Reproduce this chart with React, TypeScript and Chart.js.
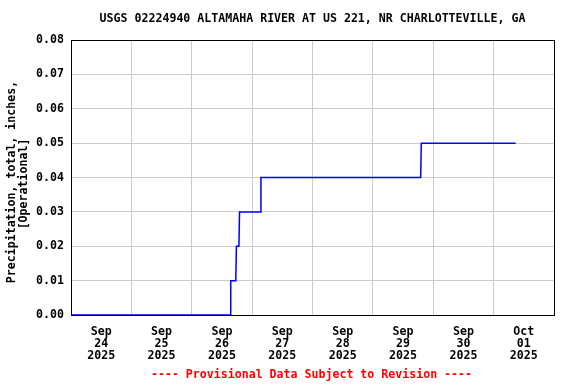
import React, { useEffect, useRef } from "react";
import { Chart, registerables } from "chart.js";

Chart.register(...registerables);

const titleText = "USGS 02224940 ALTAMAHA RIVER AT US 221, NR CHARLOTTEVILLE, GA";
const yTitleLines = ["Precipitation, total, inches,", "[Operational]"];
const footerText = "---- Provisional Data Subject to Revision ----";

const startTime = "2025-09-24T00:00";
const endTime = "2025-10-02T00:00";

const times = [
  "2025-09-24T00:00",
  "2025-09-26T15:15",
  "2025-09-26T15:30",
  "2025-09-26T17:30",
  "2025-09-26T17:45",
  "2025-09-26T18:45",
  "2025-09-26T19:00",
  "2025-09-27T03:15",
  "2025-09-27T03:30",
  "2025-09-29T19:00",
  "2025-09-29T19:15",
  "2025-10-01T08:45",
];
const values = [0, 0, 0.01, 0.01, 0.02, 0.02, 0.03, 0.03, 0.04, 0.04, 0.05, 0.05];

const tickMonths = ["Sep", "Sep", "Sep", "Sep", "Sep", "Sep", "Sep", "Oct"];
const tickDays = ["24", "25", "26", "27", "28", "29", "30", "01"];
const tickYears = ["2025", "2025", "2025", "2025", "2025", "2025", "2025", "2025"];

const yMin = 0;
const yMax = 0.08;
const yStep = 0.01;

const FONT = '"DejaVu Sans Mono", "Liberation Mono", monospace';
const FSIZE = 11.6;

const toHours = (t: string) => (Date.parse(t + ":00Z") - Date.parse(startTime + ":00Z")) / 3600000;

export default function App() {
  const ref = useRef<HTMLCanvasElement>(null);

  useEffect(() => {
    document.body.style.margin = "0";
    const canvas = ref.current!;
    const points = times.map((t, i) => ({ x: toHours(t), y: values[i] }));
    const totalHours = toHours(endTime);
    const tickHours = tickDays.map((_, i) => i * 24 + 12);

    const textPlugin = {
      id: "texts",
      afterDraw(chart: any) {
        const { ctx, chartArea } = chart;
        ctx.save();
        ctx.strokeStyle = "#000";
        ctx.lineWidth = 1;
        ctx.strokeRect(
          Math.round(chartArea.left) + 0.5,
          Math.round(chartArea.top) + 0.5,
          Math.round(chartArea.right - chartArea.left),
          Math.round(chartArea.bottom - chartArea.top)
        );
        ctx.font = `bold ${FSIZE}px ${FONT}`;
        ctx.fillStyle = "#000";
        ctx.textAlign = "center";
        ctx.textBaseline = "middle";
        const cx = (chartArea.left + chartArea.right) / 2;
        ctx.fillText(titleText, cx, 19);
        ctx.fillStyle = "#ff0000";
        ctx.fillText(footerText, cx - 1, 375);
        ctx.fillStyle = "#000";
        const cy = 182;
        ctx.save();
        ctx.translate(12, cy);
        ctx.rotate(-Math.PI / 2);
        ctx.fillText(yTitleLines[0], 0, 0);
        ctx.restore();
        ctx.save();
        ctx.translate(24, cy + 2);
        ctx.rotate(-Math.PI / 2);
        ctx.fillText(yTitleLines[1], 0, 0);
        ctx.restore();
        ctx.restore();
      },
    };

    const chart = new Chart(canvas, {
      type: "line",
      data: {
        datasets: [
          {
            data: points,
            borderColor: "#0000ff",
            borderWidth: 1.5,
            pointRadius: 0,
            fill: false,
            tension: 0,
          },
        ],
      },
      options: {
        animation: false,
        responsive: false,
        devicePixelRatio: 1,
        layout: { padding: { top: 40, right: 22, left: 0, bottom: 0 } },
        plugins: {
          legend: { display: false },
          tooltip: { enabled: false },
          title: { display: false },
        },
        scales: {
          x: {
            type: "linear",
            min: 0,
            max: totalHours,
            afterBuildTicks: (scale: any) => {
              scale.ticks = tickHours.map((v) => ({ value: v }));
            },
            afterFit: (scale: any) => {
              scale.height = 69;
            },
            grid: { color: "#cccccc", lineWidth: 1, offset: true, drawTicks: false },
            border: { display: false },
            ticks: {
              color: "#000",
              padding: 11,
              maxRotation: 0,
              autoSkip: false,
              font: { family: FONT, size: FSIZE, weight: "bold", lineHeight: 1.04 },
              callback: (_v: any, i: number) => [tickMonths[i], tickDays[i], tickYears[i]],
            },
          },
          y: {
            type: "linear",
            min: yMin,
            max: yMax,
            afterFit: (scale: any) => {
              scale.width = 71;
            },
            grid: { color: "#cccccc", lineWidth: 1, drawTicks: false },
            border: { display: false },
            ticks: {
              stepSize: yStep,
              color: "#000",
              padding: 7,
              font: { family: FONT, size: FSIZE, weight: "bold" },
              callback: (v: any) => Number(v).toFixed(2),
            },
          },
        },
      },
      plugins: [textPlugin],
    } as any);

    return () => chart.destroy();
  }, []);

  return <canvas ref={ref} width={576} height={384} style={{ display: "block" }} />;
}
